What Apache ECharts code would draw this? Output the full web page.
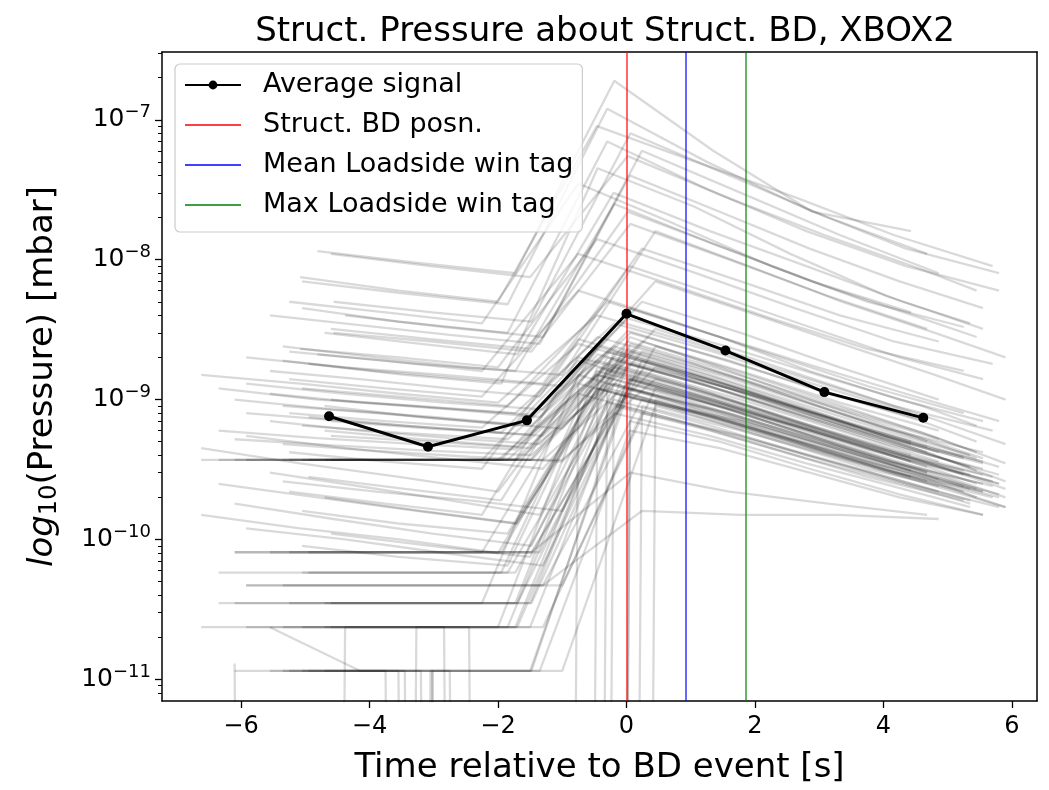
<!DOCTYPE html>
<html>
<head>
<meta charset="utf-8">
<title>Struct. Pressure about Struct. BD, XBOX2</title>
<script src="https://cdn.jsdelivr.net/npm/echarts@6/dist/echarts.min.js"></script>
<style>
    html, body { margin: 0; padding: 0; background: #fff; }
    #pressure_chart { width: 1049px; height: 790px; }
</style>
</head>
<body>
<div id="pressure_chart"></div>
<script>
// 坐标轴范围
var xMin = -7.23, xMax = 6.39;
var yMin = 7.0e-12, yMax = 3.05e-7;

// 刻度
var xTicks = [-6, -4, -2, 0, 2, 4, 6];
var yTicks = [1e-11, 1e-10, 1e-9, 1e-8, 1e-7];
var yMinorTicks = [
    8e-12, 9e-12,
    2e-11, 3e-11, 4e-11, 5e-11, 6e-11, 7e-11, 8e-11, 9e-11,
    2e-10, 3e-10, 4e-10, 5e-10, 6e-10, 7e-10, 8e-10, 9e-10,
    2e-9, 3e-9, 4e-9, 5e-9, 6e-9, 7e-9, 8e-9, 9e-9,
    2e-8, 3e-8, 4e-8, 5e-8, 6e-8, 7e-8, 8e-8, 9e-8,
    2e-7, 3e-7
];

// 平均信号
var avgTime = [-4.63, -3.09, -1.55, 0, 1.54, 3.08, 4.62];
var avgPressure = [7.6e-10, 4.6e-10, 7.1e-10, 4.1e-9, 2.24e-9, 1.13e-9, 7.4e-10];

// 竖线 (BD / loadside tag)
var tagNames = ['Struct. BD posn.', 'Mean Loadside win tag', 'Max Loadside win tag'];
var tagTimes = [0, 0.915, 1.85];
var tagColors = ['#ff0000', '#0000ff', '#008000'];

// 单个事件的采样时间
var bgTimes = [
    [-6.62, -5.08, -3.54, -2.0, -0.46, 1.08, 2.62, 4.16, 5.7],
    [-6.35, -4.81, -3.27, -1.73, -0.19, 1.35, 2.89, 4.43],
    [-6.1, -4.56, -3.02, -1.48, 0.06, 1.6, 3.14, 4.68],
    [-5.92, -4.38, -2.84, -1.3, 0.24, 1.78, 3.32, 4.86],
    [-5.55, -4.15, -2.75, -1.35, 0.05, 1.45, 2.85, 4.25, 5.55],
    [-4.7, -3.2, -1.7, -0.2, 1.3, 2.8, 4.3, 5.35],
    [-4.95, -3.45, -1.95, -0.45, 1.05, 2.55, 4.05, 5.55],
    [-5.25, -3.75, -2.25, -0.75, 0.75, 2.25, 3.75, 5.25],
    [-5.05, -3.55, -1.85, -0.3, 1.25, 2.8, 4.35, 5.8],
    [-4.6, -3.05, -1.5, 0.02, 1.55, 3.08, 4.6, 5.45],
    [-5.35, -3.9, -2.45, -1.0, 0.45, 1.9, 3.35, 4.8, 5.9]
];
// 每条曲线用哪组时间
var bgGrid = [
    1, 0, 2, 3, 4, 5, 1, 2, 3, 0, 6, 4,
    0, 1, 2, 3, 4, 5, 1, 2, 3, 4, 6, 5,
    0, 1, 2, 3, 5, 6, 4, 2, 1, 3, 5, 2, 3, 5, 4, 0, 1, 6, 6,
    0, 1, 2, 3, 4, 5, 0, 3, 6,
    3, 2,
    2, 3, 5, 4, 1, 6,
    7, 8, 9, 10, 7, 8, 9, 10, 7, 8, 9, 10,
    7, 8, 9, 10, 7, 8, 9, 10, 7, 8, 9, 10,
    7, 8, 9, 10, 7, 8, 9, 10, 7, 8, 9,
    2, 9, 8, 10, 7
];
// 每条曲线的压力 (0 = 读数为零, null = 没有采样)
var bgPressure = [
    [null, 1.15e-8, 9.5e-9, 8e-9, 1.9e-7, 6e-8, 2.2e-8, 1.6e-8],
    [null, 7.5e-9, 6e-9, 5e-9, 9e-8, 5e-8, 2.8e-8, 1.5e-8, 9e-9],
    [null, 5e-9, 4.2e-9, 3.6e-9, 8e-8, 4e-8, 2e-8, 1.1e-8],
    [null, 4e-9, 3.3e-9, 2.8e-9, 6e-8, 3e-8, 1.5e-8, 8e-9],
    [4e-9, 3.4e-9, 2.9e-9, 2.5e-9, 4e-8, 2.2e-8, 1.2e-8, 7e-9, 4.5e-9],
    [3e-9, 2.5e-9, 2.1e-9, 3e-8, 1.6e-8, 9e-9, 5e-9, 3.5e-9],
    [null, 2.1e-9, 1.8e-9, 1.6e-9, 2.5e-8, 1.3e-8, 7e-9, 4.2e-9],
    [null, 3e-9, 2.6e-9, 2.2e-9, 1.8e-8, 1e-8, 5.5e-9, 3.2e-9],
    [2e-9, 1.7e-9, 1.5e-9, 1.3e-9, 1.2e-8, 7e-9, 4e-9, 2.6e-9],
    [null, 2.3e-9, 2e-9, 1.7e-9, 1.4e-8, 8e-9, 4.5e-9, 2.6e-9, 1.8e-9],
    [1.8e-9, 1.5e-9, 1.3e-9, 4.5e-8, 2.4e-8, 1.1e-8, 5.5e-9, 3.2e-9],
    [1.6e-9, 1.4e-9, 1.2e-9, 1.05e-9, 9e-9, 5.5e-9, 3.3e-9, 2e-9, 1.4e-9],

    [1.5e-9, 1.3e-9, 1.1e-9, 9.5e-10, 4e-9, 2.5e-9, 1.5e-9, 9e-10, 6e-10],
    [1.2e-9, 1e-9, 9e-10, 8e-10, 3.5e-9, 2.2e-9, 1.3e-9, 8e-10],
    [1e-9, 8.5e-10, 7.5e-10, 6.5e-10, 3e-9, 1.9e-9, 1.1e-9, 7e-10],
    [8e-10, 7e-10, 6.2e-10, 5.5e-10, 2.6e-9, 1.6e-9, 9.5e-10, 6e-10],
    [7e-10, 6e-10, 5.3e-10, 4.8e-10, 2.2e-9, 1.4e-9, 8.5e-10, 5e-10, 3.5e-10],
    [9e-10, 7.5e-10, 6.5e-10, 2.4e-9, 1.5e-9, 9e-10, 5.5e-10, 4e-10],
    [6e-10, 5.3e-10, 4.8e-10, 4.4e-10, 2e-9, 1.3e-9, 8e-10, 5e-10],
    [5.2e-10, 4.7e-10, 4.3e-10, 4e-10, 1.8e-9, 1.2e-9, 7.5e-10, 4.6e-10],
    [1.3e-9, 1.1e-9, 9.5e-10, 8.5e-10, 5e-9, 3e-9, 1.7e-9, 1e-9],
    [1.1e-9, 9.5e-10, 8.5e-10, 7.5e-10, 4.5e-9, 2.8e-9, 1.6e-9, 1e-9, 7e-10],
    [7.5e-10, 6.5e-10, 5.8e-10, 2.8e-9, 1.8e-9, 1.05e-9, 6.2e-10, 4.2e-10],
    [6e-10, 5.2e-10, 4.6e-10, 1.9e-9, 1.25e-9, 7.5e-10, 4.6e-10, 3.3e-10],

    [3.7e-10, 3.7e-10, 3.7e-10, 3.7e-10, 1.5e-9, 1e-9, 6.5e-10, 4e-10, 2.6e-10],
    [3.7e-10, 3.7e-10, 3.7e-10, 3.7e-10, 1.8e-9, 1.1e-9, 6.5e-10, 4e-10],
    [3.7e-10, 3.7e-10, 3.7e-10, 3.7e-10, 2e-9, 1.2e-9, 7e-10, 4.2e-10],
    [3.7e-10, 3.7e-10, 3.7e-10, 3.7e-10, 1.6e-9, 1e-9, 6e-10, 3.6e-10],
    [3.7e-10, 3.7e-10, 3.7e-10, 1.3e-9, 8.5e-10, 5.2e-10, 3.2e-10, 2.3e-10],
    [3.7e-10, 3.7e-10, 3.7e-10, 2.1e-9, 1.35e-9, 8e-10, 4.8e-10, 3.2e-10],
    [8.1e-11, 8.1e-11, 8.1e-11, 8.1e-11, 1.4e-9, 9e-10, 5.5e-10, 3.3e-10, 2.2e-10],
    [8.1e-11, 8.1e-11, 8.1e-11, 8.1e-11, 1.2e-9, 8e-10, 4.8e-10, 3e-10],
    [5.8e-11, 5.8e-11, 5.8e-11, 5.8e-11, 1.1e-9, 7.5e-10, 4.5e-10, 2.8e-10],
    [4.7e-11, 4.7e-11, 4.7e-11, 4.7e-11, 1e-9, 7e-10, 4.3e-10, 2.7e-10],
    [3.5e-11, 3.5e-11, 3.5e-11, 9e-10, 6e-10, 3.8e-10, 2.5e-10, 1.8e-10],
    [3.5e-11, 3.5e-11, 3.5e-11, 3.5e-11, 1.3e-9, 8.5e-10, 5e-10, 3e-10],
    [2.36e-11, 2.36e-11, 2.36e-11, 2.36e-11, 8e-10, 5.5e-10, 3.5e-10, 2.2e-10],
    [2.36e-11, 2.36e-11, 2.36e-11, 1e-9, 6.5e-10, 4e-10, 2.6e-10, 1.9e-10],
    [1.15e-11, 1.15e-11, 1.15e-11, 1.15e-11, 6e-10, 4.5e-10, 3e-10, 2e-10, 1.5e-10],
    [2.36e-11, 2.36e-11, 2.36e-11, 2.36e-11, 1.6e-9, 1e-9, 6e-10, 3.6e-10, 2.4e-10],
    [3.5e-11, 3.5e-11, 3.5e-11, 3.5e-11, 2.2e-9, 1.4e-9, 8e-10, 4.8e-10],
    [5.8e-11, 5.8e-11, 5.8e-11, 1.7e-9, 1.1e-9, 6.8e-10, 4.2e-10, 2.9e-10],
    [8.1e-11, 8.1e-11, 8.1e-11, 1.2e-9, 8e-10, 5e-10, 3.1e-10, 2.2e-10],

    [4.5e-10, 3.5e-10, 2.8e-10, 2.2e-10, 1.9e-9, 1.2e-9, 7e-10, 4.3e-10, 2.8e-10],
    [2.5e-10, 2e-10, 1.6e-10, 1.3e-10, 1.5e-9, 1e-9, 6e-10, 3.6e-10],
    [1.8e-10, 1.4e-10, 1.1e-10, 9e-11, 2.5e-9, 1.5e-9, 8.5e-10, 5e-10],
    [1.2e-10, 1e-10, 8e-11, 6.5e-11, 1.9e-9, 1.2e-9, 7e-10, 4.2e-10],
    [3e-10, 2.4e-10, 1.9e-10, 1.5e-10, 2.8e-9, 1.7e-9, 1e-9, 6e-10, 3.8e-10],
    [2e-10, 1.6e-10, 1.3e-10, 1.7e-9, 1.1e-9, 6.5e-10, 4e-10, 2.9e-10],
    [1.5e-10, 1.2e-10, 1e-10, 8e-11, 1.2e-9, 8e-10, 5e-10, 3e-10, 2e-10],
    [5.5e-10, 4.5e-10, 3.8e-10, 3.2e-10, 2.2e-9, 1.4e-9, 8.5e-10, 5.2e-10],
    [2.8e-10, 2.3e-10, 1.9e-10, 2.4e-9, 1.5e-9, 9e-10, 5.4e-10, 3.6e-10],

    [4.7e-11, 4.7e-11, 4.7e-11, 4.7e-11, 1.6e-10, 1.5e-10, 1.5e-10, 1.4e-10],
    [8.1e-11, 8.1e-11, 8.1e-11, 8.1e-11, 3e-10, 2.2e-10, 1.8e-10, 1.5e-10],

    [1.15e-11, 1.15e-11, 1.15e-11, 0, 1.1e-9, 7e-10, 4.2e-10, 2.6e-10],
    [0, 2.36e-11, 2.36e-11, 0, 9e-10, 6e-10, 3.8e-10, 2.4e-10],
    [1.15e-11, 1.15e-11, 0, 8e-10, 5.5e-10, 3.5e-10, 2.3e-10, 1.7e-10],
    [2.36e-11, 1.15e-11, 1.15e-11, 0, 7e-10, 5e-10, 3.2e-10, 2.1e-10, 1.5e-10],
    [0, 0, 2.36e-11, 2.36e-11, 1.3e-9, 8e-10, 5e-10, 3.1e-10],
    [1.15e-11, 1.15e-11, 0, 1.5e-9, 9.5e-10, 5.8e-10, 3.6e-10, 2.5e-10],

    [5e-9, 4.2e-9, 3.5e-9, 3.5e-8, 1.8e-8, 9e-9, 5e-9, 3.3e-9],
    [4.5e-9, 3.6e-9, 3e-9, 7e-8, 3.2e-8, 1.6e-8, 9e-9, 6e-9],
    [3.2e-9, 2.7e-9, 2.3e-9, 2.2e-8, 1.2e-8, 6.5e-9, 3.8e-9, 2.8e-9],
    [2.4e-9, 2e-9, 1.7e-9, 1.5e-9, 1.6e-8, 9e-9, 5e-9, 3e-9, 2e-9],
    [1.4e-9, 1.2e-9, 1.05e-9, 6e-9, 3.6e-9, 2.1e-9, 1.25e-9, 8e-10],
    [1.2e-9, 1.05e-9, 9e-10, 5e-9, 3e-9, 1.8e-9, 1.1e-9, 7e-10],
    [1e-9, 8.8e-10, 7.8e-10, 3.8e-9, 2.4e-9, 1.45e-9, 9e-10, 6.5e-10],
    [9e-10, 8e-10, 7e-10, 6.2e-10, 3.2e-9, 2e-9, 1.2e-9, 7.2e-10, 4.8e-10],
    [8e-10, 7e-10, 6.3e-10, 2.5e-9, 1.6e-9, 9.5e-10, 5.8e-10, 3.8e-10],
    [6.5e-10, 5.8e-10, 5.2e-10, 2.2e-9, 1.4e-9, 8.5e-10, 5.2e-10, 3.3e-10],
    [5.5e-10, 5e-10, 4.5e-10, 2.6e-9, 1.6e-9, 9.5e-10, 5.8e-10, 4.2e-10],
    [4.8e-10, 4.3e-10, 3.9e-10, 3.6e-10, 1.7e-9, 1.1e-9, 6.6e-10, 4e-10, 2.6e-10],

    [3.7e-10, 3.7e-10, 3.7e-10, 1.9e-9, 1.2e-9, 7.2e-10, 4.4e-10, 2.9e-10],
    [3.7e-10, 3.7e-10, 3.7e-10, 1.7e-9, 1.05e-9, 6.4e-10, 3.9e-10, 2.5e-10],
    [3.7e-10, 3.7e-10, 3.7e-10, 2.3e-9, 1.45e-9, 8.6e-10, 5.2e-10, 3.8e-10],
    [3.7e-10, 3.7e-10, 3.7e-10, 3.7e-10, 1.4e-9, 9e-10, 5.5e-10, 3.4e-10, 2.3e-10],
    [3.5e-11, 3.5e-11, 3.5e-11, 1.5e-9, 9.5e-10, 5.8e-10, 3.6e-10, 2.4e-10],
    [2.36e-11, 2.36e-11, 2.36e-11, 1.3e-9, 8.5e-10, 5.2e-10, 3.2e-10, 2.1e-10],
    [3.5e-11, 3.5e-11, 3.5e-11, 1.8e-9, 1.15e-9, 7e-10, 4.3e-10, 3.1e-10],
    [4.7e-11, 4.7e-11, 4.7e-11, 4.7e-11, 1.2e-9, 7.8e-10, 4.8e-10, 3e-10, 2e-10],
    [8.1e-11, 8.1e-11, 8.1e-11, 1.1e-9, 7.2e-10, 4.5e-10, 2.8e-10, 1.9e-10],
    [5.8e-11, 5.8e-11, 5.8e-11, 9.5e-10, 6.3e-10, 4e-10, 2.5e-10, 1.7e-10],
    [2.36e-11, 2.36e-11, 2.36e-11, 1.4e-9, 9e-10, 5.5e-10, 3.4e-10, 2.5e-10],
    [1.15e-11, 1.15e-11, 1.15e-11, 1.15e-11, 9e-10, 6e-10, 3.8e-10, 2.4e-10, 1.7e-10],

    [2.2e-10, 1.8e-10, 1.5e-10, 2e-9, 1.3e-9, 7.8e-10, 4.7e-10, 3.1e-10],
    [1.6e-10, 1.3e-10, 1.1e-10, 1.6e-9, 1e-9, 6.2e-10, 3.8e-10, 2.5e-10],
    [1.1e-10, 9e-11, 7.5e-11, 1.2e-9, 8e-10, 5e-10, 3.1e-10, 2.3e-10],
    [2.6e-10, 2.2e-10, 1.9e-10, 1.6e-10, 2.4e-9, 1.5e-9, 9e-10, 5.4e-10, 3.5e-10],
    [4.2e-10, 3.6e-10, 3.2e-10, 2.7e-9, 1.7e-9, 1e-9, 6e-10, 3.9e-10],
    [9e-11, 7.5e-11, 6.5e-11, 2e-9, 1.25e-9, 7.5e-10, 4.5e-10, 2.9e-10],
    [7e-10, 6.2e-10, 5.6e-10, 3.1e-9, 1.9e-9, 1.15e-9, 7e-10, 5e-10],
    [1.9e-9, 1.6e-9, 1.4e-9, 1.25e-9, 7e-9, 4.2e-9, 2.5e-9, 1.5e-9, 1e-9],
    [2.2e-9, 1.9e-9, 1.6e-9, 1.1e-8, 6.5e-9, 3.8e-9, 2.3e-9, 1.6e-9],
    [7e-9, 5.8e-9, 4.8e-9, 1.2e-7, 5e-8, 2.3e-8, 1.2e-8, 8e-9],
    [1.1e-8, 9e-9, 7.5e-9, 5.5e-8, 2.8e-8, 1.5e-8, 8.5e-9, 6e-9],

    [1.3e-11, 0, 1.15e-11, 1.15e-11, 1.4e-9, 9e-10, 5.5e-10, 3.3e-10],
    [0, 1.15e-11, 1.15e-11, 1.1e-9, 7e-10, 4.5e-10, 2.8e-10, 2e-10],
    [1.15e-11, 1.15e-11, 0, 1.2e-9, 7.8e-10, 4.8e-10, 3e-10, 2e-10],
    [2.36e-11, 2.36e-11, 2.36e-11, 0, 1e-9, 6.5e-10, 4e-10, 2.5e-10, 1.7e-10],
    [1.15e-11, 1.15e-11, 0, 1.3e-9, 8.5e-10, 5.2e-10, 3.2e-10, 2.2e-10]
];

var FONT = 'DejaVu Sans';

function load_pressure_chart(elementId){
    var series = [];
    // 背景: 每个 BD 事件一条灰线
    for (var i = 0; i < bgPressure.length; i++) {
        var t = bgTimes[bgGrid[i]];
        var pts = [];
        for (var k = 0; k < bgPressure[i].length; k++) {
            var p = bgPressure[i][k];
            if (p === null) {
                pts.push([t[k], '-']);
            } else {
                // 零读数在对数轴上画到底下去 (跟 matplotlib 一样)
                pts.push([t[k], p > 0 ? p : 1e-100]);
            }
        }
        series.push({
            type: 'line',
            data: pts,
            symbol: 'none',
            silent: true,
            z: 1,
            lineStyle: { color: 'rgba(0,0,0,0.15)', width: 2.3 }
        });
    }
    // 平均信号
    var avgData = [];
    for (var j = 0; j < avgTime.length; j++) {
        avgData.push([avgTime[j], avgPressure[j]]);
    }
    series.push({
        name: 'Average signal',
        type: 'line',
        data: avgData,
        symbol: 'circle',
        symbolSize: 10,
        z: 10,
        itemStyle: { color: '#000' },
        lineStyle: { color: '#000', width: 3 }
    });
    // 竖线
    for (var m = 0; m < tagNames.length; m++) {
        series.push({
            name: tagNames[m],
            type: 'line',
            data: [],
            symbol: 'none',
            z: 5,
            itemStyle: { color: tagColors[m], opacity: 0.75 },
            lineStyle: { color: tagColors[m], width: 1.6, opacity: 0.75 },
            markLine: {
                silent: true,
                symbol: ['none', 'none'],
                label: { show: false },
                lineStyle: { color: tagColors[m], width: 1.6, type: 'solid', opacity: 0.75 },
                data: [{ xAxis: tagTimes[m] }]
            }
        });
    }

    // 图例: 竖线不要圆点
    var legendData = [{ name: 'Average signal' }];
    for (var n = 0; n < tagNames.length; n++) {
        legendData.push({ name: tagNames[n], itemStyle: { opacity: 0 } });
    }

    var option = {
        animation: false,
        backgroundColor: '#fff',
        title: {
            text: 'Struct. Pressure about Struct. BD, XBOX2',
            left: 600,
            textAlign: 'center',
            top: 10,
            textStyle: { fontFamily: FONT, fontSize: 34, fontWeight: 'normal', color: '#000' }
        },
        legend: {
            data: legendData,
            orient: 'vertical',
            left: 175,
            top: 64,
            padding: [6, 9, 12, 9],
            itemGap: 10,
            itemWidth: 56,
            itemHeight: 11,
            backgroundColor: 'rgba(255,255,255,0.8)',
            borderColor: '#cccccc',
            borderWidth: 1.2,
            borderRadius: 5,
            selectedMode: false,
            textStyle: { fontFamily: FONT, fontSize: 27, color: '#000', lineHeight: 30, padding: [0, 0, 0, 17] }
        },
        grid: { left: 162, top: 52, width: 875, height: 653 },
        xAxis: [
            {
                type: 'value',
                min: xMin,
                max: xMax,
                name: 'Time relative to BD event [s]',
                nameLocation: 'middle',
                nameGap: 50,
                nameTextStyle: { fontFamily: FONT, fontSize: 34, color: '#000' },
                axisLine: { onZero: false, lineStyle: { color: '#000', width: 1.5 } },
                axisTick: { customValues: xTicks, length: 7, lineStyle: { color: '#000', width: 1.3 } },
                axisLabel: {
                    customValues: xTicks,
                    margin: 14,
                    fontFamily: FONT,
                    fontSize: 24,
                    color: '#000',
                    formatter: function (v) { return String(v).replace('-', '\u2212'); }
                },
                splitLine: { show: false }
            },
            {
                // 上边框
                type: 'value',
                position: 'top',
                min: xMin,
                max: xMax,
                axisLine: { onZero: false, lineStyle: { color: '#000', width: 1.5 } },
                axisTick: { show: false },
                axisLabel: { show: false },
                splitLine: { show: false }
            }
        ],
        yAxis: [
            {
                type: 'log',
                logBase: 10,
                min: yMin,
                max: yMax,
                name: '{it|log}{sub|10}(Pressure) [mbar]',
                nameLocation: 'middle',
                nameGap: 100,
                nameRotate: 90,
                nameTextStyle: {
                    fontFamily: FONT, fontSize: 34, color: '#000',
                    rich: {
                        it: { fontFamily: FONT, fontSize: 34, fontStyle: 'italic', color: '#000' },
                        sub: { fontFamily: FONT, fontSize: 24, color: '#000', padding: [14, 0, 0, 0] }
                    }
                },
                axisLine: { onZero: false, lineStyle: { color: '#000', width: 1.5 } },
                axisTick: { customValues: yTicks, length: 7, lineStyle: { color: '#000', width: 1.3 } },
                axisLabel: {
                    customValues: yTicks,
                    margin: 11,
                    fontFamily: FONT,
                    fontSize: 25,
                    color: '#000',
                    formatter: function (v) {
                        var e = Math.round(Math.log(v) / Math.LN10);
                        return '10{sup|' + (e < 0 ? '\u2212' : '') + Math.abs(e) + '}';
                    },
                    rich: {
                        sup: { fontFamily: FONT, fontSize: 18, color: '#000', padding: [0, 0, 15, 0] }
                    }
                },
                splitLine: { show: false }
            },
            {
                // 次刻度
                type: 'log',
                logBase: 10,
                min: yMin,
                max: yMax,
                position: 'left',
                axisLine: { show: false, onZero: false },
                axisTick: { customValues: yMinorTicks, length: 4, lineStyle: { color: '#000', width: 1 } },
                axisLabel: { show: false },
                splitLine: { show: false }
            },
            {
                // 右边框
                type: 'value',
                position: 'right',
                min: 0,
                max: 1,
                axisLine: { show: true, onZero: false, lineStyle: { color: '#000', width: 1.5 } },
                axisTick: { show: false },
                axisLabel: { show: false },
                splitLine: { show: false }
            }
        ],
        series: series
    };
    var myChart = echarts.init(document.getElementById(elementId));
    myChart.setOption(option, true);
}

load_pressure_chart('pressure_chart');
</script>
</body>
</html>
